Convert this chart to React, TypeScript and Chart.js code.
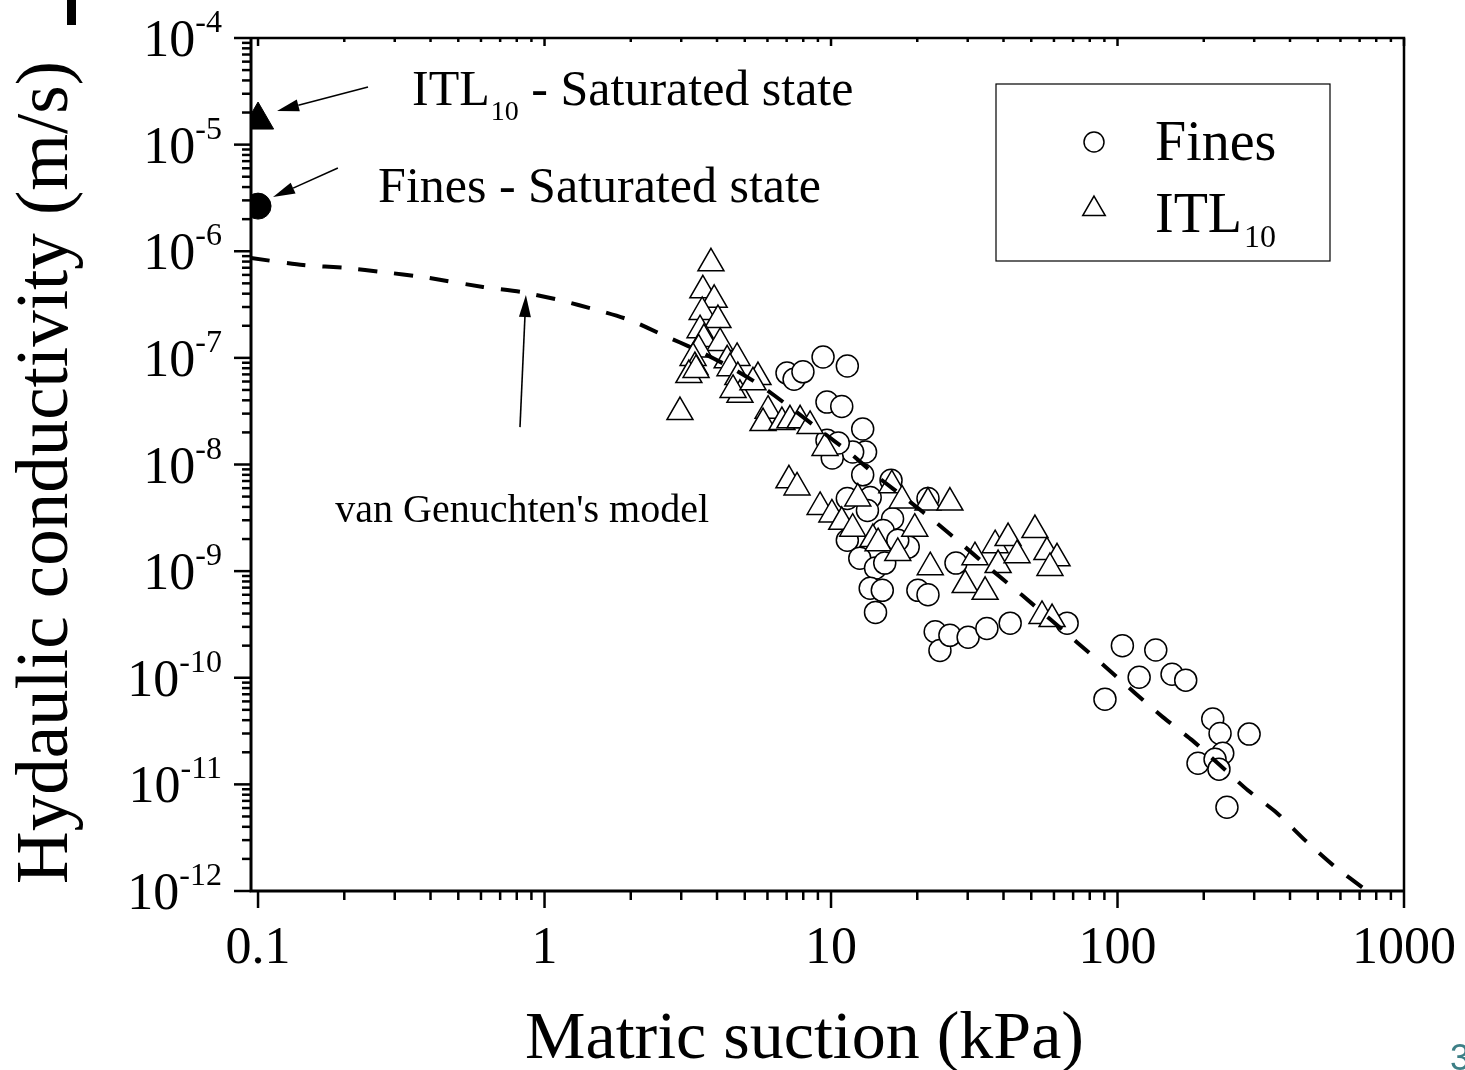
import React, { useEffect, useRef } from 'react';
import { Chart, registerables } from 'chart.js';

Chart.register(...registerables);

const FONT = '"Liberation Serif", "Times New Roman", serif';

// ---------- data ----------
const finesSuction = [7.02, 7.43, 7.98, 9.38, 11.4, 9.68, 10.9, 12.9, 13.2, 11.9, 9.68, 10.1, 10.6, 12.9, 16.2, 21.8, 11.4, 13.7, 13.4, 16.4, 15.2, 18.6, 17.1, 11.4, 12.6, 14.3, 15.4, 13.7, 15.1, 14.3, 20.1, 21.8, 27.3, 23.1, 24.0, 26.0, 30.1, 35.0, 42.2, 66.7, 104, 136, 119, 155, 173, 90.4, 215, 228, 288, 233, 191, 219, 226, 241];
const finesK = [7.2e-8, 6.3e-8, 7.4e-8, 1.02e-7, 8.4e-8, 3.85e-8, 3.5e-8, 2.15e-8, 1.31e-8, 1.31e-8, 1.69e-8, 1.15e-8, 1.59e-8, 8.0e-9, 7.1e-9, 4.8e-9, 4.8e-9, 4.9e-9, 3.7e-9, 3.1e-9, 2.4e-9, 1.68e-9, 1.95e-9, 1.95e-9, 1.32e-9, 1.07e-9, 1.19e-9, 6.9e-10, 6.6e-10, 4.1e-10, 6.6e-10, 6.0e-10, 1.19e-9, 2.7e-10, 1.8e-10, 2.5e-10, 2.4e-10, 2.9e-10, 3.25e-10, 3.25e-10, 2.0e-10, 1.82e-10, 1.01e-10, 1.08e-10, 9.5e-11, 6.3e-11, 4.1e-11, 3.0e-11, 2.96e-11, 1.96e-11, 1.58e-11, 1.72e-11, 1.39e-11, 6.1e-12];

const itlSuction = [3.81, 3.57, 3.91, 3.55, 4.03, 3.49, 3.6, 4.10, 3.45, 3.30, 3.35, 3.19, 3.38, 2.97, 4.34, 4.70, 4.44, 4.73, 4.81, 4.55, 5.56, 5.34, 6.03, 5.79, 6.74, 7.19, 7.80, 8.45, 9.53, 7.13, 7.61, 9.16, 10.07, 10.9, 12.4, 11.9, 14.0, 14.6, 16.3, 17.7, 17.1, 19.6, 21.8, 26.0, 22.2, 29.4, 34.5, 31.8, 37.4, 41.5, 38.3, 44.6, 51.5, 56.7, 61.5, 58.1, 54.5, 59.1];
const itlK = [7.7e-7, 4.3e-7, 3.5e-7, 2.7e-7, 2.26e-7, 1.82e-7, 1.5e-7, 1.38e-7, 1.2e-7, 1.0e-7, 8.2e-8, 6.9e-8, 7.7e-8, 3.1e-8, 9.5e-8, 1.0e-7, 8.0e-8, 6.6e-8, 4.5e-8, 5.0e-8, 6.6e-8, 5.9e-8, 3.2e-8, 2.45e-8, 2.5e-8, 2.6e-8, 2.6e-8, 2.3e-8, 1.43e-8, 7.1e-9, 6.1e-9, 4.0e-9, 3.4e-9, 2.9e-9, 4.8e-9, 2.5e-9, 2.0e-9, 1.83e-9, 6.4e-9, 4.6e-9, 1.48e-9, 2.5e-9, 4.4e-9, 4.4e-9, 1.09e-9, 7.4e-10, 6.4e-10, 1.35e-9, 1.75e-9, 2.04e-9, 1.14e-9, 1.41e-9, 2.43e-9, 1.51e-9, 1.32e-9, 1.07e-9, 3.8e-10, 3.55e-10];

const satFinesSuction = [0.1];
const satFinesK = [2.65e-6];
const satItlSuction = [0.1];
const satItlK = [1.7e-5];

const modelSuction = [0.0945, 0.1436, 0.2045, 0.273, 0.377, 0.61, 0.834, 1.13, 1.525, 1.988, 2.59, 3.41, 4.44, 5.65, 7.19, 9.16, 11.65, 14.6, 18.6, 23.4, 29.4, 36.8, 46.4, 58.1, 72.8, 91.9, 115, 144, 182, 228, 285, 360, 451, 565, 743];
const modelK = [8.63e-7, 7.43e-7, 6.96e-7, 6.38e-7, 5.73e-7, 4.62e-7, 4.14e-7, 3.48e-7, 2.81e-7, 2.26e-7, 1.64e-7, 1.18e-7, 8.2e-8, 5.56e-8, 3.45e-8, 2.1e-8, 1.28e-8, 7.6e-9, 4.6e-9, 2.82e-9, 1.68e-9, 1.0e-9, 5.96e-10, 3.55e-10, 2.11e-10, 1.23e-10, 7.2e-11, 4.27e-11, 2.6e-11, 1.51e-11, 8.8e-12, 5.4e-12, 3.0e-12, 1.75e-12, 1.0e-12];

const xTickValues = [0.1, 1, 10, 100, 1000];
const xTickLabels = ['0.1', '1', '10', '100', '1000'];
const yTickExponents = [-4, -5, -6, -7, -8, -9, -10, -11, -12];

const X_MIN = 0.0945;
const X_MAX = 1000;
const Y_MIN = 1e-12;
const Y_MAX = 1e-4;

// annotation anchors (data coordinates)
const arrowFrom = [[0.242, 3.47e-5], [0.19, 6.03e-6], [0.821, 2.24e-8]];
const arrowTo = [[0.1165, 2.07e-5], [0.1128, 3.22e-6], [0.861, 3.88e-7]];

const pts = (xs: number[], ys: number[]) => xs.map((x, i) => ({ x, y: ys[i] }));

function drawArrow(ctx: CanvasRenderingContext2D, x1: number, y1: number, x2: number, y2: number) {
  const ang = Math.atan2(y2 - y1, x2 - x1);
  const L = 22, W = 6;
  const bx = x2 - L * Math.cos(ang), by = y2 - L * Math.sin(ang);
  ctx.lineWidth = 1.6;
  ctx.beginPath();
  ctx.moveTo(x1, y1);
  ctx.lineTo(bx, by);
  ctx.stroke();
  ctx.beginPath();
  ctx.moveTo(x2, y2);
  ctx.lineTo(bx + W * Math.sin(ang), by - W * Math.cos(ang));
  ctx.lineTo(bx - W * Math.sin(ang), by + W * Math.cos(ang));
  ctx.closePath();
  ctx.fill();
}

const decorPlugin = {
  id: 'decor',
  afterDraw(chart: any) {
    const { ctx, chartArea: a, scales } = chart;
    const xs = scales.x, ys = scales.y;
    const X = (v: number) => xs.getPixelForValue(v);
    const Y = (v: number) => ys.getPixelForValue(v);
    ctx.save();
    ctx.strokeStyle = '#000';
    ctx.fillStyle = '#000';
    ctx.lineCap = 'butt';

    // frame
    ctx.lineWidth = 3;
    ctx.beginPath();
    ctx.moveTo(a.left, a.top - 1);
    ctx.lineTo(a.left, a.bottom);
    ctx.lineTo(a.right + 1, a.bottom);
    ctx.stroke();
    ctx.lineWidth = 2.5;
    ctx.beginPath();
    ctx.moveTo(a.left, a.top);
    ctx.lineTo(a.right, a.top);
    ctx.lineTo(a.right, a.bottom);
    ctx.stroke();

    // x ticks
    ctx.lineWidth = 2.5;
    for (let d = -2; d <= 3; d++) {
      for (let m = 1; m <= 9; m++) {
        const v = m * Math.pow(10, d);
        if (v < X_MIN || v > X_MAX * 1.0001) continue;
        const px = X(v);
        const len = m === 1 ? 17 : 9;
        ctx.beginPath();
        ctx.moveTo(px, a.bottom);
        ctx.lineTo(px, a.bottom + len);
        ctx.stroke();
        ctx.beginPath();
        ctx.moveTo(px, a.top);
        ctx.lineTo(px, a.top + (m === 1 ? 8 : 4));
        ctx.stroke();
      }
    }
    // y ticks
    for (let d = -12; d <= -4; d++) {
      for (let m = 1; m <= 9; m++) {
        const v = m * Math.pow(10, d);
        if (v > Y_MAX * 1.0001) continue;
        const py = Y(v);
        const len = m === 1 ? 17 : 9;
        ctx.beginPath();
        ctx.moveTo(a.left, py);
        ctx.lineTo(a.left - len, py);
        ctx.stroke();
      }
    }

    // x tick labels
    ctx.font = `52px ${FONT}`;
    ctx.textAlign = 'center';
    ctx.textBaseline = 'alphabetic';
    xTickValues.forEach((v, i) => {
      ctx.fillText(xTickLabels[i], X(v), a.bottom + 72);
    });

    // y tick labels with superscripts
    yTickExponents.forEach((e) => {
      const py = Y(Math.pow(10, e));
      const sup = String(e);
      ctx.font = `32px ${FONT}`;
      const supW = ctx.measureText(sup).width;
      const right = a.left - 29;
      ctx.textAlign = 'left';
      ctx.fillText(sup, right - supW, py - 6);
      ctx.font = `52px ${FONT}`;
      ctx.textAlign = 'right';
      ctx.fillText('10', right - supW, py + 18);
    });

    // axis titles
    ctx.font = `68px ${FONT}`;
    ctx.textAlign = 'center';
    ctx.fillText('Matric suction (kPa)', (a.left + a.right) / 2 - 23, a.bottom + 167);
    ctx.save();
    ctx.translate(67, (a.top + a.bottom) / 2 + 8);
    ctx.rotate(-Math.PI / 2);
    ctx.font = `73px ${FONT}`;
    ctx.fillText('Hydaulic conductivity (m/s)', 0, 0);
    ctx.restore();

    // arrows
    arrowFrom.forEach((f, i) => {
      const t = arrowTo[i];
      drawArrow(ctx, X(f[0]), Y(f[1]), X(t[0]), Y(t[1]));
    });

    // annotation texts
    ctx.textAlign = 'left';
    ctx.textBaseline = 'alphabetic';
    {
      let x = X(0.345);
      const y = Y(2.35e-5);
      ctx.font = `50px ${FONT}`;
      ctx.fillText('ITL', x, y);
      x += ctx.measureText('ITL').width + 1;
      ctx.font = `28px ${FONT}`;
      ctx.fillText('10', x, y + 15);
      x += ctx.measureText('10').width;
      ctx.font = `50px ${FONT}`;
      ctx.fillText(' - Saturated state', x, y);
    }
    ctx.font = `50px ${FONT}`;
    ctx.fillText('Fines - Saturated state', X(0.2625), Y(2.9e-6));
    ctx.font = `40px ${FONT}`;
    ctx.fillText("van Genuchten's model", X(0.186), Y(2.88e-9));

    // legend
    const lx = a.right - 408, ly = a.top + 46, lw = 334, lh = 177;
    ctx.lineWidth = 1.2;
    ctx.strokeRect(lx, ly, lw, lh);
    ctx.lineWidth = 1.5;
    ctx.fillStyle = '#fff';
    ctx.beginPath();
    ctx.arc(lx + 98, ly + 58, 10, 0, Math.PI * 2);
    ctx.fill();
    ctx.stroke();
    const tr = 13, tcx = lx + 98, tcy = ly + 125;
    ctx.beginPath();
    ctx.moveTo(tcx, tcy - tr);
    ctx.lineTo(tcx + tr * Math.sin((2 * Math.PI) / 3), tcy + tr / 2);
    ctx.lineTo(tcx - tr * Math.sin((2 * Math.PI) / 3), tcy + tr / 2);
    ctx.closePath();
    ctx.fill();
    ctx.stroke();
    ctx.fillStyle = '#000';
    ctx.font = `56px ${FONT}`;
    ctx.fillText('Fines', lx + 159, ly + 76);
    ctx.fillText('ITL', lx + 159, ly + 148);
    const itlW = ctx.measureText('ITL').width;
    ctx.font = `32px ${FONT}`;
    ctx.fillText('10', lx + 161 + itlW, ly + 163);

    ctx.restore();
  },
};

export default function App() {
  const ref = useRef<HTMLCanvasElement>(null);
  useEffect(() => {
    const canvas = ref.current;
    if (!canvas) return;
    const chart = new Chart(canvas, {
      type: 'scatter',
      data: {
        datasets: [
          {
            label: "van Genuchten's model",
            data: pts(modelSuction, modelK),
            showLine: true,
            pointRadius: 0,
            borderColor: '#000',
            borderWidth: 4,
            borderDash: [19, 17],
            borderCapStyle: 'butt',
            fill: false,
            tension: 0.2,
            clip: 0,
          } as any,
          {
            label: 'ITL10 - Saturated state',
            data: pts(satItlSuction, satItlK),
            pointStyle: 'triangle',
            pointRadius: 18,
            pointBackgroundColor: '#000',
            pointBorderColor: '#000',
            pointBorderWidth: 1,
            clip: 0,
          } as any,
          {
            label: 'Fines - Saturated state',
            data: pts(satFinesSuction, satFinesK),
            pointStyle: 'circle',
            pointRadius: 13,
            pointBackgroundColor: '#000',
            pointBorderColor: '#000',
            pointBorderWidth: 1,
            clip: 0,
          } as any,
          {
            label: 'ITL10',
            data: pts(itlSuction, itlK),
            pointStyle: 'triangle',
            pointRadius: 15,
            pointBackgroundColor: '#fff',
            pointBorderColor: '#000',
            pointBorderWidth: 1.5,
            clip: 0,
          } as any,
          {
            label: 'Fines',
            data: pts(finesSuction, finesK),
            pointStyle: 'circle',
            pointRadius: 11,
            pointBackgroundColor: '#fff',
            pointBorderColor: '#000',
            pointBorderWidth: 1.5,
            clip: 0,
          } as any,
        ],
      },
      options: {
        animation: false,
        responsive: false,
        events: [],
        layout: { padding: { left: 0, top: 38, right: 61, bottom: 0 } },
        plugins: { legend: { display: false }, tooltip: { enabled: false } },
        scales: {
          x: {
            type: 'logarithmic',
            min: X_MIN,
            max: X_MAX,
            grid: { display: false },
            border: { display: false },
            ticks: { display: false },
            afterFit: (s: any) => {
              s.height = 179;
            },
          },
          y: {
            type: 'logarithmic',
            min: Y_MIN,
            max: Y_MAX,
            grid: { display: false },
            border: { display: false },
            ticks: { display: false },
            afterFit: (s: any) => {
              s.width = 251;
            },
          },
        },
      } as any,
      plugins: [decorPlugin],
    });
    return () => chart.destroy();
  }, []);

  return (
    <div style={{ position: 'fixed', left: 0, top: 0, width: 1465, height: 1070, background: '#fff', overflow: 'hidden' }}>
      <canvas ref={ref} width={1465} height={1070} style={{ display: 'block' }} />
      <div style={{ position: 'absolute', left: 67, top: 0, width: 9, height: 25, background: '#000' }} />
      <span style={{ position: 'absolute', left: 1450, top: 1040, font: '36px "Liberation Sans", sans-serif', color: '#3d7f86', lineHeight: '36px' }}>3</span>
    </div>
  );
}
